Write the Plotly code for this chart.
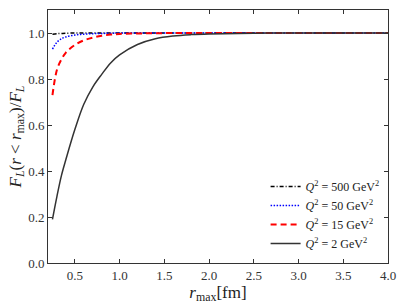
import plotly.graph_objects as go

r_max = [0.25, 0.3, 0.35, 0.4, 0.5, 0.6, 0.7, 0.8, 0.9, 1.0, 1.2, 1.4, 1.6, 1.8, 2.0, 2.5, 3.0, 4.0]
f_q500 = [0.995, 0.997, 0.998, 0.999, 1.0, 1.0, 1.0, 1.0, 1.0, 1.0, 1.0, 1.0, 1.0, 1.0, 1.0, 1.0, 1.0, 1.0]
f_q50 = [0.93, 0.96, 0.975, 0.983, 0.991, 0.995, 0.997, 0.998, 0.999, 1.0, 1.0, 1.0, 1.0, 1.0, 1.0, 1.0, 1.0, 1.0]
f_q15 = [0.73, 0.84, 0.885, 0.915, 0.948, 0.968, 0.98, 0.988, 0.993, 0.996, 0.998, 0.999, 1.0, 1.0, 1.0, 1.0, 1.0, 1.0]
f_q2 = [0.19, 0.29, 0.38, 0.45, 0.58, 0.69, 0.765, 0.82, 0.87, 0.905, 0.95, 0.975, 0.987, 0.993, 0.996, 0.999, 1.0, 1.0]

x_ticks = [0.5, 1.0, 1.5, 2.0, 2.5, 3.0, 3.5, 4.0]
y_ticks = [0.0, 0.2, 0.4, 0.6, 0.8, 1.0]

series = [
    ("<i>Q</i><sup>2</sup> = 500 GeV<sup>2</sup>", f_q500, "#000000", "4px,2px,1px,2px", 1.5),
    ("<i>Q</i><sup>2</sup> = 50 GeV<sup>2</sup>", f_q50, "#0000ff", "1.5px,1.5px", 1.5),
    ("<i>Q</i><sup>2</sup> = 15 GeV<sup>2</sup>", f_q15, "#ff0000", "6px,4px", 2),
    ("<i>Q</i><sup>2</sup> = 2 GeV<sup>2</sup>", f_q2, "#333333", "solid", 1.5),
]

fig = go.Figure()
for name, ys, color, dash, w in series:
    fig.add_trace(go.Scatter(x=r_max, y=ys, mode="lines", name=name,
                             line=dict(color=color, dash=dash, width=w, shape="spline")))

font = "Liberation Serif, DejaVu Serif, serif"
axis_common = dict(showline=True, linecolor="#333333", linewidth=1, mirror="ticks",
                   ticks="inside", ticklen=4, tickcolor="#333333", showgrid=False,
                   zeroline=False, tickfont=dict(family=font, size=13, color="#333333"))

fig.update_layout(
    width=407, height=305,
    margin=dict(l=48, r=19, t=9, b=40),
    paper_bgcolor="white", plot_bgcolor="white",
    font=dict(family=font, size=12, color="#222222"),
    xaxis=dict(range=[0.2, 4.0], tickvals=x_ticks, ticktext=[f"{v:.1f}" for v in x_ticks],
               title=dict(text="<i>r</i><sub>max</sub>[fm]", font=dict(family=font, size=17), standoff=2),
               **axis_common),
    yaxis=dict(range=[0.0, 1.1], tickvals=y_ticks, ticktext=[f"{v:.1f}" for v in y_ticks],
               title=dict(text="<i>F<sub>L</sub></i>(<i>r</i> &lt; <i>r</i><sub>max</sub>)/<i>F<sub>L</sub></i>",
                          font=dict(family=font, size=17), standoff=2),
               **axis_common),
    legend=dict(x=0.99, y=0.02, xanchor="right", yanchor="bottom", bgcolor="rgba(0,0,0,0)",
                font=dict(family=font, size=12, color="#222222"), tracegroupgap=0, itemwidth=30),
    showlegend=True,
)

fig.write_html("out.html", config={"displayModeBar": False},
               post_script="document.body.style.margin='0';document.body.style.padding='0';")
